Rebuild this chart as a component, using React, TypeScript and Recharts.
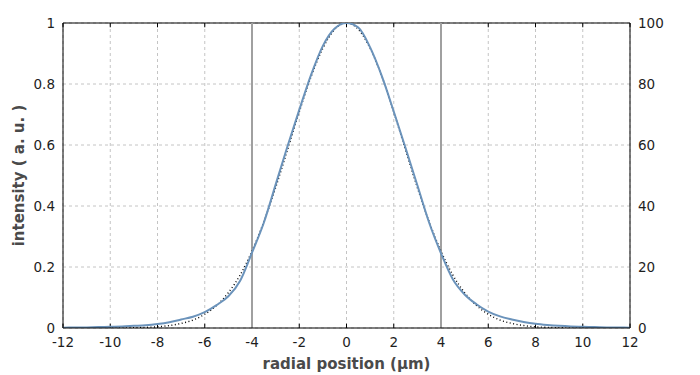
import {
  CartesianGrid,
  ComposedChart,
  Label,
  Line,
  ReferenceLine,
  XAxis,
  YAxis,
} from "recharts";

const positions = [
  -12, -11.5, -11, -10.5, -10, -9.5, -9, -8.5, -8, -7.5, -7, -6.5, -6, -5.5, -5, -4.5, -4, -3.5, -3,
  -2.5, -2, -1.5, -1, -0.5, 0, 0.5, 1, 1.5, 2, 2.5, 3, 3.5, 4, 4.5, 5, 5.5, 6, 6.5, 7, 7.5, 8, 8.5, 9,
  9.5, 10, 10.5, 11, 11.5, 12,
];

// measured profile (blue)
const measured = [
  0.001, 0.0015, 0.002, 0.003, 0.004, 0.005, 0.007, 0.009, 0.013, 0.019, 0.028, 0.037, 0.052, 0.075,
  0.104, 0.155, 0.247, 0.345, 0.47, 0.595, 0.715, 0.83, 0.925, 0.982, 1.0, 0.985, 0.92, 0.825, 0.71,
  0.59, 0.468, 0.345, 0.245, 0.16, 0.11, 0.078, 0.054, 0.038, 0.028, 0.02, 0.014, 0.01, 0.007, 0.005,
  0.004, 0.003, 0.002, 0.0015, 0.001,
];

// gaussian fit (dotted)
const fitted = [
  0, 0, 0, 0, 0, 0, 0.001, 0.002, 0.004, 0.008, 0.015, 0.026, 0.045, 0.074, 0.116, 0.174, 0.252, 0.348,
  0.46, 0.583, 0.708, 0.824, 0.917, 0.979, 1.0, 0.979, 0.917, 0.824, 0.708, 0.583, 0.46, 0.348, 0.252,
  0.174, 0.116, 0.074, 0.045, 0.026, 0.015, 0.008, 0.004, 0.002, 0.001, 0, 0, 0, 0, 0, 0,
];

const xTicks = [-12, -10, -8, -6, -4, -2, 0, 2, 4, 6, 8, 10, 12];
const yTicks = [0, 0.2, 0.4, 0.6, 0.8, 1];
const yTicksRight = [0, 20, 40, 60, 80, 100];
const markers = [-4, 4];

const FONT = "'DejaVu Sans', Verdana, sans-serif";
const tickStyle = { fontSize: 13.5, fill: "#1e1e1e", fontFamily: FONT };
const labelStyle = { fontSize: 15, fontWeight: 700, fill: "#4a4a4a", fontFamily: FONT };

const data = positions.map((x, i) => ({ x, measured: measured[i], fitted: fitted[i] }));

export default function App() {
  return (
    <div style={{ position: "absolute", left: 0, top: 0, background: "#fff" }}>
      <ComposedChart
        width={700}
        height={375}
        data={data}
        margin={{ top: 23, right: 0, bottom: 0, left: 0 }}
      >
        <CartesianGrid yAxisId="left" stroke="#c4c4c4" strokeDasharray="3 3" />
        <XAxis
          dataKey="x"
          type="number"
          domain={[-12, 12]}
          ticks={xTicks}
          allowDataOverflow
          height={47}
          tick={tickStyle}
          tickLine={false}
          tickSize={0}
          tickMargin={9}
          axisLine={{ stroke: "#000" }}
        >
          <Label
            content={({ viewBox }: any) => (
              <text
                x={viewBox.x + viewBox.width / 2}
                y={viewBox.y + 41}
                textAnchor="middle"
                style={labelStyle}
              >
                radial position (µm)
              </text>
            )}
          />
        </XAxis>
        <YAxis
          yAxisId="left"
          type="number"
          domain={[0, 1]}
          ticks={yTicks}
          allowDataOverflow
          width={63}
          tick={tickStyle}
          tickLine={false}
          tickSize={0}
          tickMargin={8}
          axisLine={{ stroke: "#000" }}
        >
          <Label
            content={({ viewBox }: any) => {
              const cx = viewBox.x + 19;
              const cy = viewBox.y + viewBox.height / 2;
              return (
                <text
                  x={cx}
                  y={cy}
                  textAnchor="middle"
                  dominantBaseline="central"
                  transform={`rotate(-90 ${cx} ${cy})`}
                  style={labelStyle}
                >
                  intensity ( a. u. )
                </text>
              );
            }}
          />
        </YAxis>
        <YAxis
          yAxisId="right"
          orientation="right"
          type="number"
          domain={[0, 100]}
          ticks={yTicksRight}
          allowDataOverflow
          width={70}
          tick={{ ...tickStyle, textAnchor: "start" }}
          tickLine={false}
          tickSize={0}
          tickMargin={8}
          axisLine={{ stroke: "#000" }}
        />
        <ReferenceLine yAxisId="left" y={1} stroke="#000" strokeWidth={1} />
        {xTicks.map((t) => (
          <ReferenceLine
            key={`b${t}`}
            yAxisId="left"
            segment={[
              { x: t, y: 0 },
              { x: t, y: 0.014 },
            ]}
            stroke="#000"
          />
        ))}
        {xTicks.map((t) => (
          <ReferenceLine
            key={`t${t}`}
            yAxisId="left"
            segment={[
              { x: t, y: 1 },
              { x: t, y: 0.986 },
            ]}
            stroke="#000"
          />
        ))}
        {markers.map((m) => (
          <ReferenceLine key={m} yAxisId="left" x={m} stroke="#a0a0a0" strokeWidth={2} />
        ))}
        <Line
          yAxisId="left"
          dataKey="fitted"
          type="monotone"
          stroke="#000"
          strokeWidth={1.4}
          strokeDasharray="1 2.5"
          dot={false}
          activeDot={false}
          isAnimationActive={false}
        />
        <Line
          yAxisId="left"
          dataKey="measured"
          type="monotone"
          stroke="#6b93bb"
          strokeWidth={2}
          dot={false}
          activeDot={false}
          isAnimationActive={false}
        />
      </ComposedChart>
    </div>
  );
}
